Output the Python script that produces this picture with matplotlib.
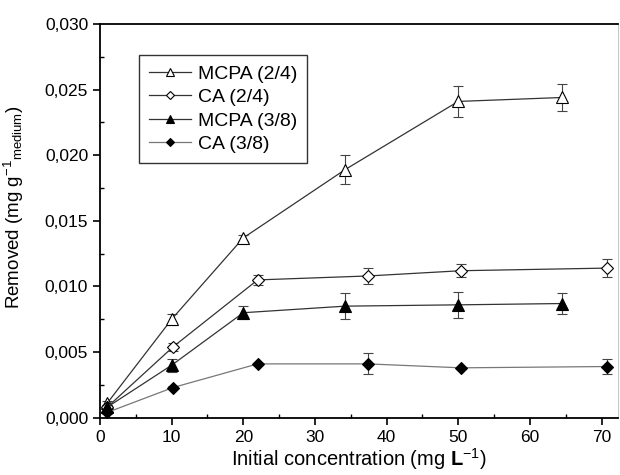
import matplotlib
matplotlib.use("Agg")
import matplotlib.pyplot as plt
from matplotlib.ticker import FuncFormatter, MultipleLocator

plt.rcParams['font.family'] = ['Liberation Sans', 'DejaVu Sans']
plt.rcParams['mathtext.fontset'] = 'custom'
plt.rcParams['mathtext.rm'] = 'Liberation Sans'
plt.rcParams['mathtext.bf'] = 'Liberation Sans:bold'
plt.rcParams['mathtext.default'] = 'regular'

# removal data per sorbent/herbicide
x_mcpa_24 = [1, 10, 20, 34.2, 50, 64.5]
y_mcpa_24 = [0.0011, 0.0075, 0.0137, 0.0189, 0.0241, 0.0244]
e_mcpa_24 = [0.0002, 0.0004, 0.0002, 0.0011, 0.0012, 0.0010]

x_ca_24 = [1, 10.2, 22, 37.4, 50.4, 70.8]
y_ca_24 = [0.0008, 0.0054, 0.0105, 0.0108, 0.0112, 0.0114]
e_ca_24 = [0.0002, 0.0003, 0.0004, 0.0006, 0.0005, 0.0007]

x_mcpa_38 = [1, 10, 20, 34.2, 50, 64.5]
y_mcpa_38 = [0.0008, 0.0040, 0.0080, 0.0085, 0.0086, 0.0087]
e_mcpa_38 = [0.0002, 0.0005, 0.0005, 0.0010, 0.0010, 0.0008]

x_ca_38 = [1, 10.2, 22, 37.4, 50.4, 70.8]
y_ca_38 = [0.0004, 0.0023, 0.0041, 0.0041, 0.0038, 0.0039]
e_ca_38 = [0.0001, 0.0001, 0.0001, 0.0008, 0.0001, 0.0006]

fig = plt.figure(figsize=(6.2, 4.75), dpi=100)
ax = fig.add_axes([100 / 620, 1 - 417.7 / 475, 518 / 620, 393.7 / 475])

series = [
    (x_mcpa_24, y_mcpa_24, e_mcpa_24, '^', 'white', 'MCPA (2/4)', '#333333'),
    (x_ca_24, y_ca_24, e_ca_24, 'D', 'white', 'CA (2/4)', '#333333'),
    (x_mcpa_38, y_mcpa_38, e_mcpa_38, '^', 'black', 'MCPA (3/8)', '#333333'),
    (x_ca_38, y_ca_38, e_ca_38, 'D', 'black', 'CA (3/8)', '#777777'),
]

for xs, ys, es, mk, fc, lab, lc in series:
    ax.errorbar(xs, ys, yerr=es, fmt='none', ecolor='#444444', elinewidth=0.8,
                capsize=3.5, capthick=0.8, zorder=2)
    ms = 8 if mk == '^' else 6.5
    ax.plot(xs, ys, color=lc, lw=0.9, marker=mk, ms=ms, mfc=fc, mec='black',
            mew=0.8, label=lab, zorder=3)

ax.set_xlim(0, 72.3)
ax.set_ylim(0, 0.030)
ax.xaxis.set_major_locator(MultipleLocator(10))
ax.xaxis.set_minor_locator(MultipleLocator(5))
ax.yaxis.set_major_locator(MultipleLocator(0.005))
ax.yaxis.set_minor_locator(MultipleLocator(0.0025))
ax.yaxis.set_major_formatter(FuncFormatter(lambda v, p: f"{v:.3f}".replace('.', ',')))

ax.tick_params(which='major', direction='out', length=5, width=1.2, labelsize=12.5)
ax.tick_params(which='minor', direction='in', length=3, width=1.0)
ax.tick_params(top=False, right=False)
for side in ['left', 'bottom', 'top']:
    ax.spines[side].set_linewidth(1.3)
ax.spines['right'].set_linewidth(0.6)
ax.spines['right'].set_color('#bbbbbb')

ax.set_xlabel(r'Initial concentration (mg $\mathbf{L}^{-1}$)', fontsize=14.5)
ax.set_ylabel(r'Removed (mg g$^{-1}$$_{medium}$)', fontsize=13.5)
ax.xaxis.set_label_coords(0.5, -0.072)
ax.yaxis.set_label_coords(-0.143, 0.535)

leg = ax.legend(loc='upper left', bbox_to_anchor=(0.075, 0.92), fontsize=14,
                frameon=True, fancybox=False, edgecolor='black', handlelength=2.2,
                borderpad=0.5, labelspacing=0.3, handletextpad=0.35,
                markerscale=0.7, borderaxespad=0)
leg.get_frame().set_linewidth(1.0)

fig.savefig('out.png', dpi=100)
